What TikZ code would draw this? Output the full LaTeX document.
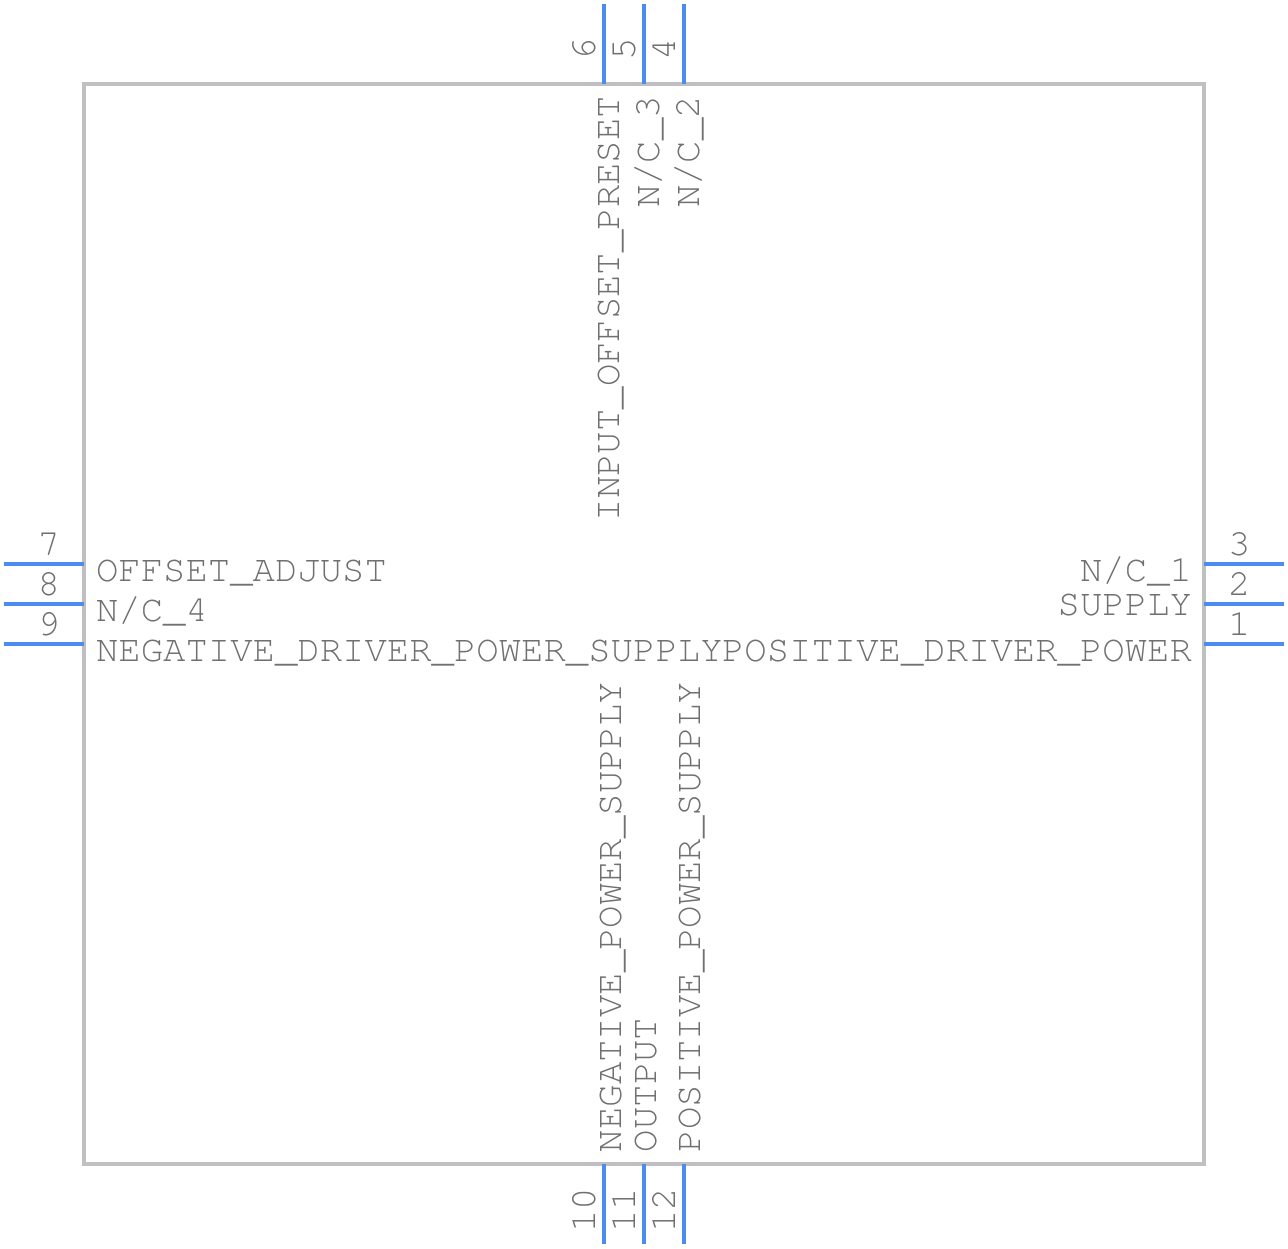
\documentclass[tikz,border=0pt]{standalone}
\usepackage{fontspec}
\setmainfont{TeX Gyre Cursor}
\usetikzlibrary{calc}
\definecolor{bleubroche}{HTML}{4A8CF0}
\definecolor{griscadre}{HTML}{C0C0C0}
\definecolor{gristexte}{HTML}{707070}
\tikzstyle{boitier} = [rectangle, draw=griscadre, line width=4pt, inner sep=0pt, outer sep=0pt, minimum width=1120pt, minimum height=1080pt]
\tikzstyle{broche} = [draw=bleubroche, line width=4pt]
\tikzstyle{nom} = [inner sep=0pt, outer sep=0pt, text=gristexte, font=\fontsize{37.3}{40}\selectfont]

\begin{document}
\begin{tikzpicture}[x=1pt,y=-1pt]
                \useasboundingbox (0,0) rectangle (1288,1248);
                \node (circuit) [boitier, anchor=north west] at (84,84) {};

                % broches gauche et droite
                \coordinate (b7) at (4,564);
                \coordinate (b8) at (4,604);
                \coordinate (b9) at (4,644);
                \coordinate (b3) at (1284,564);
                \coordinate (b2) at (1284,604);
                \coordinate (b1) at (1284,644);
                \draw[broche] (b7) -- (circuit.west |- b7);
                \draw[broche] (b8) -- (circuit.west |- b8);
                \draw[broche] (b9) -- (circuit.west |- b9);
                \draw[broche] (b3) -- (circuit.east |- b3);
                \draw[broche] (b2) -- (circuit.east |- b2);
                \draw[broche] (b1) -- (circuit.east |- b1);

                % broches haut et bas
                \coordinate (b6) at (604,4);
                \coordinate (b5) at (644,4);
                \coordinate (b4) at (684,4);
                \coordinate (b10) at (604,1244);
                \coordinate (b11) at (644,1244);
                \coordinate (b12) at (684,1244);
                \draw[broche] (b6) -- (circuit.north -| b6);
                \draw[broche] (b5) -- (circuit.north -| b5);
                \draw[broche] (b4) -- (circuit.north -| b4);
                \draw[broche] (b10) -- (circuit.south -| b10);
                \draw[broche] (b11) -- (circuit.south -| b11);
                \draw[broche] (b12) -- (circuit.south -| b12);

                % numeros
                \node (n7) [nom, anchor=base east] at (60,555) {7};
                \node (n8) [nom, anchor=base east] at (60,595) {8};
                \node (n9) [nom, anchor=base east] at (60,635) {9};
                \node (n3) [nom, anchor=base west] at (1228,555) {3};
                \node (n2) [nom, anchor=base west] at (1228,595) {2};
                \node (n1) [nom, anchor=base west] at (1228,635) {1};
                \node (n6) [nom, rotate=90, anchor=base west] at (595,60) {6};
                \node (n5) [nom, rotate=90, anchor=base west] at (635,60) {5};
                \node (n4) [nom, rotate=90, anchor=base west] at (675,60) {4};
                \node (n10) [nom, rotate=90, anchor=base east] at (595,1188) {10};
                \node (n11) [nom, rotate=90, anchor=base east] at (635,1188) {11};
                \node (n12) [nom, rotate=90, anchor=base east] at (675,1188) {12};

                % noms des broches
                \node (offset) [nom, anchor=base west] at (96,581) {OFFSET\_ADJUST};
                \node (nc4) [nom, anchor=base west] at (96,621) {N/C\_4};
                \node (negdriver) [nom, anchor=base west] at (96,661) {NEGATIVE\_DRIVER\_POWER\_SUPPLY};
                \node (nc1) [nom, anchor=base east] at (1192,581) {N/C\_1};
                \node (supply) [nom, anchor=base east] at (1192,615) {SUPPLY};
                \node (posdriver) [nom, anchor=base east] at (1192,661) {POSITIVE\_DRIVER\_POWER};
                \node (preset) [nom, rotate=90, anchor=base east] at (619,96) {INPUT\_OFFSET\_PRESET};
                \node (nc3) [nom, rotate=90, anchor=base east] at (659,96) {N/C\_3};
                \node (nc2) [nom, rotate=90, anchor=base east] at (699,96) {N/C\_2};
                \node (negpower) [nom, rotate=90, anchor=base west] at (621,1152) {NEGATIVE\_POWER\_SUPPLY};
                \node (sortie) [nom, rotate=90, anchor=base west] at (656,1152) {OUTPUT};
                \node (pospower) [nom, rotate=90, anchor=base west] at (700,1152) {POSITIVE\_POWER\_SUPPLY};
            \end{tikzpicture}
\end{document}
